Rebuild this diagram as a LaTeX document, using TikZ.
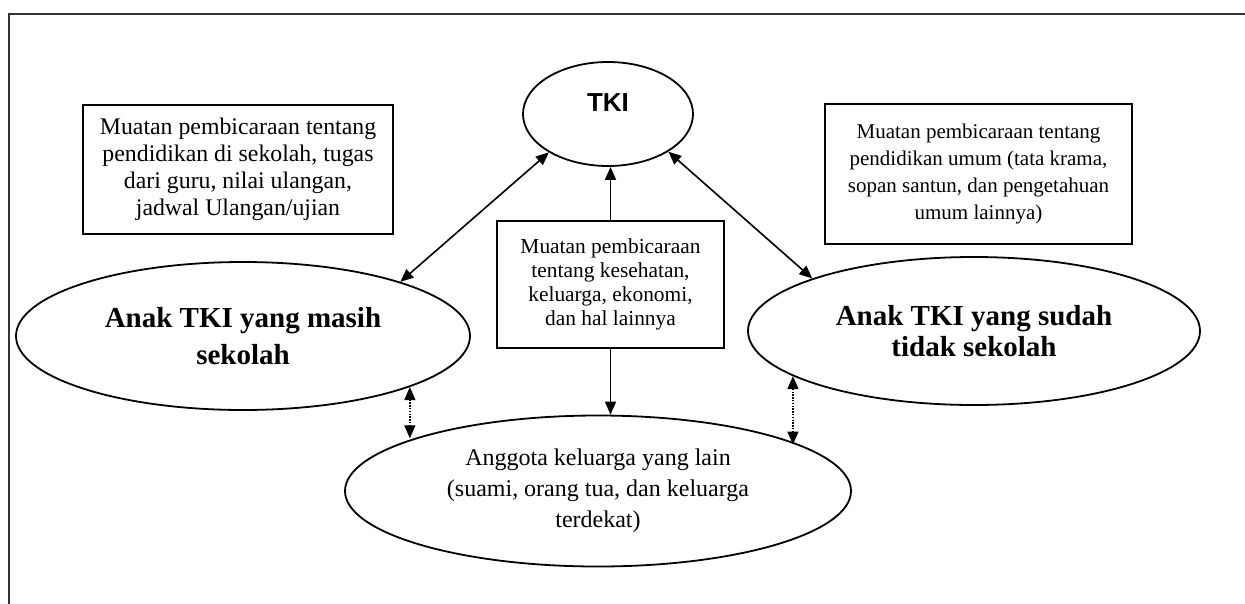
\documentclass[tikz,border=0pt]{standalone}
\usepackage{fontspec}
\setmainfont{Liberation Serif}
\newfontfamily\tkifont{Liberation Sans}
\usetikzlibrary{shapes.geometric,arrows.meta}
\begin{document}
\begin{tikzpicture}[x=1pt,y=-1pt,
  box/.style={draw,line width=2pt,rectangle,inner sep=0pt,align=center},
  oval/.style={draw,line width=1.8pt,ellipse,inner sep=0pt,align=center},
  link/.style={line width=1.6pt},
  tipend/.style={-{Triangle[length=13pt,width=11pt]}},
  tipboth/.style={{Triangle[length=13pt,width=11pt]}-{Triangle[length=13pt,width=11pt]}},
  dotline/.style={line width=1.3pt,dash pattern=on 1.3pt off 1.5pt}]
\useasboundingbox (0,0) rectangle (1245,603);
\draw[line width=2.6pt,black!80] (9,610) -- (9,14) -- (1255,14);

\node[oval,minimum width=170pt,minimum height=104pt,font=\tkifont\bfseries\fontsize{26}{28}\selectfont] (tki) at (608,114) {\raisebox{22pt}{TKI}};

\node[box,minimum width=310pt,minimum height=129pt,font=\fontsize{23.8}{27}\selectfont] (lbox) at (238,169.5)
  {Muatan pembicaraan tentang\\pendidikan di sekolah, tugas\\dari guru, nilai ulangan,\\jadwal Ulangan/ujian};
\node[box,minimum width=307pt,minimum height=140pt,font=\fontsize{21}{27}\selectfont] (rbox) at (978.5,174)
  {Muatan pembicaraan tentang\\pendidikan umum (tata krama,\\sopan santun, dan pengetahuan\\umum lainnya)};
\node[box,minimum width=227pt,minimum height=127pt,font=\fontsize{21.4}{24}\selectfont] (mbox) at (610.5,284.5)
  {Muatan pembicaraan\\tentang kesehatan,\\keluarga, ekonomi,\\dan hal lainnya};

\node[oval,minimum width=454pt,minimum height=148pt,font=\bfseries\fontsize{29}{37}\selectfont] (lell) at (243,336)
  {Anak TKI yang masih\\sekolah};
\node[oval,minimum width=452pt,minimum height=148pt,font=\bfseries\fontsize{29}{31}\selectfont] (rell) at (974,331)
  {Anak TKI yang sudah\\tidak sekolah};
\node[oval,minimum width=506pt,minimum height=151pt,font=\fontsize{24}{31}\selectfont] (bell) at (598,491)
  {Anggota keluarga yang lain\\(suami, orang tua, dan keluarga\\terdekat)};

\draw[link,tipboth] (tki.213) -- (lell.19.5);
\draw[link,tipboth] (tki.328.5) -- (rell.162.3);
\draw[link,tipend] (mbox.north) -- (mbox.north |- tki.south);
\draw[link,tipend] (mbox.south) -- (mbox.south |- bell.north);
\draw[link,dotline,tipboth] (lell.343.5) -- (lell.343.5 |- bell.164);
\draw[link,dotline,tipboth] (rell.194) -- (rell.194 |- bell.13.6);
\end{tikzpicture}
\end{document}
